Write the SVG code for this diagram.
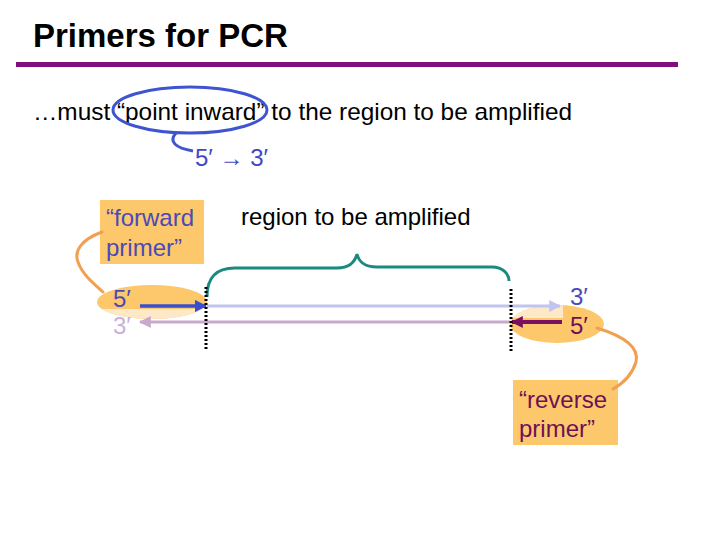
<svg xmlns="http://www.w3.org/2000/svg" width="720" height="540" viewBox="0 0 720 540">
<defs>
<style>
text{font-family:"Liberation Sans",Arial,sans-serif;font-size:24px}
.title{font-weight:bold;font-size:33px;fill:#000}
.fw{fill:#4a4ab8}
.rv{fill:#6e1058}
.lp{fill:#c8b0d8}
.orange{fill:#fdc86c}
.lead{fill:none;stroke:#f0a050;stroke-width:3;stroke-linecap:round}
.dot{stroke:#000;stroke-width:3;stroke-dasharray:2 2}
</style>
<marker id="ahb" viewBox="0 0 10 10" refX="9" refY="5" markerWidth="3.5" markerHeight="3.5" orient="auto"><path d="M0,0L10,5L0,10z" fill="#3a4fd0"/></marker>
<marker id="ahl" viewBox="0 0 10 10" refX="9" refY="5" markerWidth="4" markerHeight="4" orient="auto"><path d="M0,0L10,5L0,10z" fill="#c0c4f0"/></marker>
<marker id="ahp" viewBox="0 0 10 10" refX="9" refY="5" markerWidth="4" markerHeight="4" orient="auto"><path d="M0,0L10,5L0,10z" fill="#c8a8cc"/></marker>
<marker id="ahd" viewBox="0 0 10 10" refX="9" refY="5" markerWidth="3" markerHeight="3" orient="auto"><path d="M0,0L10,5L0,10z" fill="#7a1060"/></marker>
<clipPath id="fclip"><rect x="90" y="309" width="130" height="20"/></clipPath>
<clipPath id="rclip"><rect x="505" y="300" width="58" height="18"/></clipPath>
</defs>
<rect width="720" height="540" fill="#fff"/>
<g id="title">
<text class="title" x="33" y="47">Primers for PCR</text>
<rect x="16" y="62" width="662" height="5" fill="#7f0f7f"/>
</g>
<g id="statement">
<text x="33" y="120" textLength="539" lengthAdjust="spacingAndGlyphs">…must “point inward” to the region to be amplified</text>
<ellipse cx="190" cy="110" rx="77" ry="23" fill="none" stroke="#3f55d0" stroke-width="3"/>
<path d="M176,133 C168,142 176,148 193,151" fill="none" stroke="#3f55d0" stroke-width="3"/>
<text x="195" y="166" fill="#4048c8">5′ → 3′</text>
</g>
<g id="region-label">
<text x="241" y="225" fill="#000">region to be amplified</text>
<path d="M207,297 C207,278 215,268 235,268 L337,268 C350,268 355,262 357,254 C359,262 364,267 377,267 L492,267 C503,267 509,274 509,281" fill="none" stroke="#1a8a80" stroke-width="3"/>
</g>
<g id="forward-primer">
<rect class="orange" x="100" y="200" width="104" height="64"/>
<text class="fw" x="106" y="226">“forward</text>
<text class="fw" x="106" y="256">primer”</text>
<ellipse class="orange" cx="152" cy="302" rx="55" ry="17"/>
<ellipse cx="152" cy="302" rx="55" ry="17" fill="#fde9c8" clip-path="url(#fclip)"/>
<text class="fw" x="113" y="307">5′</text>
<text class="lp" x="113" y="334">3′</text>
<path class="lead" d="M102,232 C80,240 74,252 78,262 C82,274 94,284 103,292"/>
</g>
<g id="reverse-primer">
<ellipse class="orange" cx="557" cy="324" rx="47" ry="19"/>
<ellipse cx="557" cy="324" rx="47" ry="19" fill="#fde9c8" clip-path="url(#rclip)"/>
<text class="fw" x="570" y="305">3′</text>
<text class="rv" x="570" y="334">5′</text>
<rect class="orange" x="513" y="380" width="105" height="65"/>
<text class="rv" x="519" y="408">“reverse</text>
<text class="rv" x="519" y="437">primer”</text>
<path class="lead" d="M597,328 C620,335 640,345 636,362 C632,375 622,384 613,389"/>
</g>
<g id="connectors">
<line x1="207" y1="306" x2="560" y2="306" stroke="#c0c4f0" stroke-width="3" marker-end="url(#ahl)"/>
<line x1="510" y1="322" x2="140" y2="322" stroke="#c8a8cc" stroke-width="3" marker-end="url(#ahp)"/>
<line x1="140" y1="306" x2="206" y2="306" stroke="#3a4fd0" stroke-width="3.5" marker-end="url(#ahb)"/>
<line x1="562" y1="322" x2="512" y2="322" stroke="#7a1060" stroke-width="4" marker-end="url(#ahd)"/>
<line class="dot" x1="206" y1="287" x2="206" y2="351"/>
<line class="dot" x1="511" y1="289" x2="511" y2="351"/>
</g>
</svg>
